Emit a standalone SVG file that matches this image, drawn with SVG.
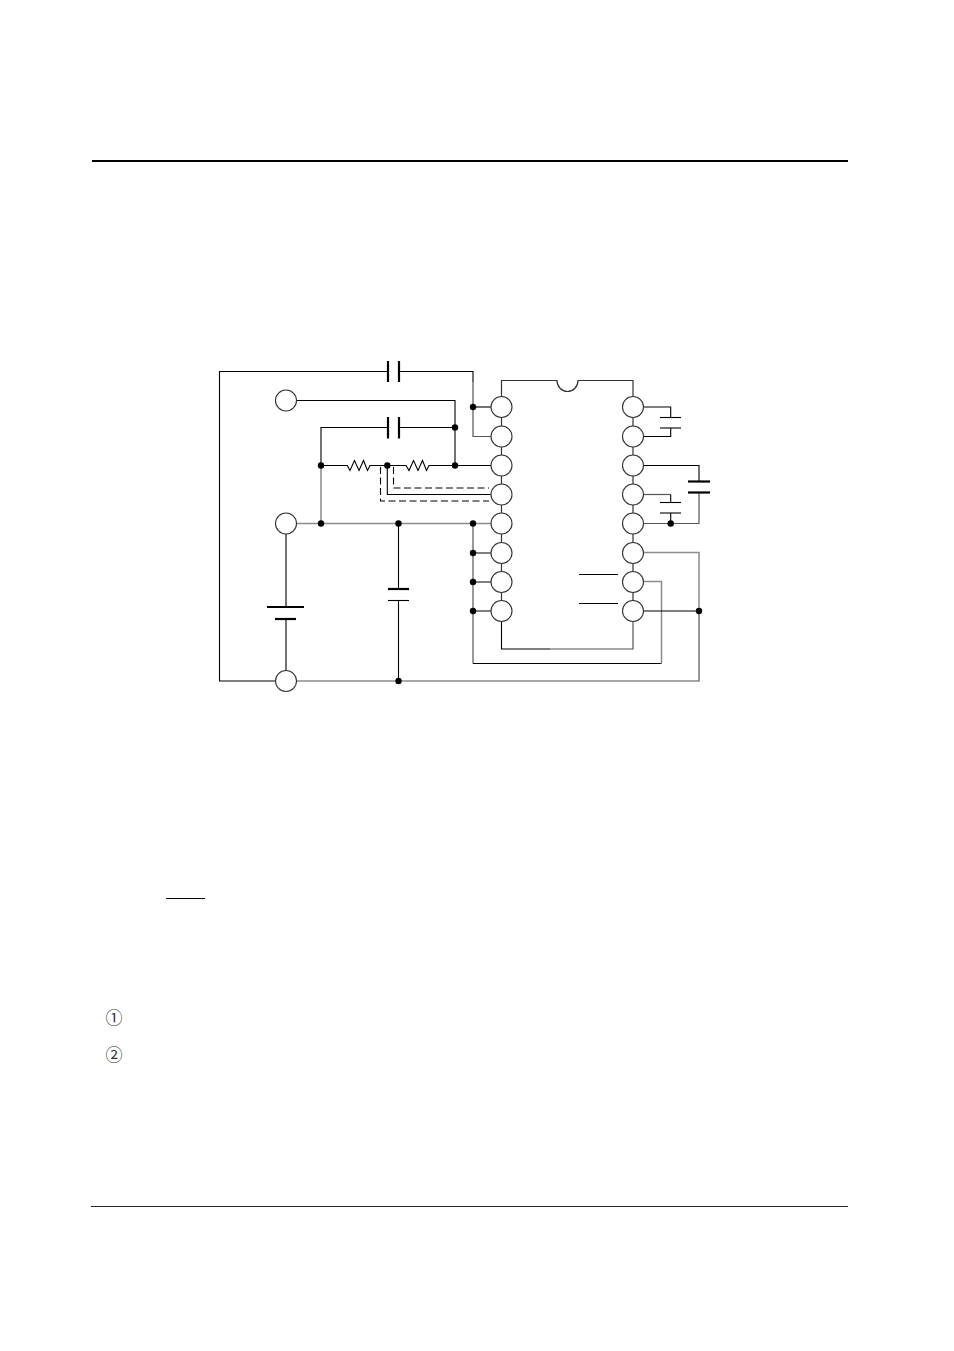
<svg xmlns="http://www.w3.org/2000/svg" width="954" height="1351" viewBox="0 0 954 1351">
<style>
.w{fill:none;stroke:#000;stroke-width:1.1}
.g{fill:none;stroke:#555;stroke-width:1.2}
.l{fill:none;stroke:#8c8c8c;stroke-width:1.5}
.d{fill:none;stroke:#000;stroke-width:1.1;stroke-dasharray:7 3.5}
.p{fill:none;stroke:#000;stroke-width:2.2}
.t{fill:none;stroke:#000;stroke-width:1.1}
.pin{fill:#fff;stroke:#333;stroke-width:1.1}
.dot{fill:#000}
.n{font-family:"Noto Sans CJK KR","Noto Sans CJK SC",sans-serif;font-size:17px;fill:#333;text-anchor:middle}
</style>
<g id="page-rules">
<line x1="92" y1="161" x2="848" y2="161" stroke="#000" stroke-width="2"/>
<line x1="91" y1="1206.500" x2="848" y2="1206.500" stroke="#222" stroke-width="1"/>
<line x1="166" y1="898.500" x2="205" y2="898.500" stroke="#000" stroke-width="1.2"/>
</g>
<g id="connectors">
<path class="w" d="M388 371.500H219.500V681H275"/>
<path class="w" d="M399 371.500H473V382"/>
<path class="g" d="M473 382V436.500H491"/>
<path class="w" d="M473 407H491"/>
<path class="w" d="M296.500 400.500H455V465.500"/>
<path class="w" d="M388 427.500H321V465.500M399 427.500H455"/>
<path class="l" d="M321 465.500V523.500M296.500 523.500H491"/>
<path class="w" d="M321 465.500H347.300L350 470.500 354.500 460.500 359 470.500 363.500 460.500 367.500 470.500 370 465.500H406L409 470.500 413.500 460.500 418 470.500 422.500 460.500 426.500 470.500 429 465.500H491"/>
<path class="w" d="M387.300 465.500V494.500H491"/>
<path class="d" d="M380.500 467V501H489"/>
<path class="d" d="M393.500 467V488H489"/>
<path class="w" d="M286 534V607M286 619V670.500"/>
<path class="w" d="M398.500 523.500V589M398.500 600V681"/>
<path class="g" d="M296.500 681H699V611"/>
<path class="l" d="M699 611V552.500H643.500"/>
<path class="g" d="M473 523.500V663.500"/>
<path class="w" d="M473 663.500H661.500"/>
<path class="l" d="M661.500 663.500V581.500H643.500"/>
<path class="w" d="M473 553H491M473 582H491M473 611H491"/>
<path class="w" d="M501.500 621.500V649H550"/>
<path class="g" d="M550 649H633V621.500"/>
<path class="w" d="M643.500 611H699"/>
<line class="w" x1="579" y1="574.500" x2="618" y2="574.500"/>
<line class="w" x1="579" y1="603.500" x2="618" y2="603.500"/>
<path class="w" d="M643.500 407H670.700V417.500M670.700 428V436.500H643.500"/>
<path class="w" d="M643.500 465.500H699V481.500"/>
<path class="g" d="M699 492.500V523.500H643.500"/>
<path class="g" d="M643.500 494.500H670.700"/>
<path class="w" d="M670.700 494.500V502.500M670.700 513V523.500"/>
</g>
<g id="capacitor-c1"><line class="p" x1="388" y1="361" x2="388" y2="382"/><line class="p" x1="399" y1="361" x2="399" y2="382"/></g>
<g id="capacitor-c2"><line class="p" x1="388" y1="417" x2="388" y2="438.500"/><line class="p" x1="399" y1="417" x2="399" y2="438.500"/></g>
<g id="battery"><line class="p" x1="267" y1="607" x2="304" y2="607"/><line class="p" x1="275" y1="619" x2="296" y2="619"/></g>
<g id="capacitor-c3"><line class="p" x1="388" y1="589" x2="409" y2="589"/><line class="t" x1="388" y1="600.500" x2="409" y2="600.500"/></g>
<g id="capacitor-c4"><line class="t" x1="660" y1="417.500" x2="681" y2="417.500"/><line class="t" x1="660" y1="428" x2="681" y2="428"/></g>
<g id="capacitor-c5"><line class="p" x1="688" y1="481.500" x2="710" y2="481.500"/><line class="p" x1="688" y1="492.500" x2="710" y2="492.500"/></g>
<g id="capacitor-c6"><line class="t" x1="660" y1="502.500" x2="681" y2="502.500"/><line class="t" x1="660" y1="513" x2="681" y2="513"/></g>
<g id="ic-body">
<path fill="none" stroke="#333" stroke-width="1.2" d="M501.500 611V380.500H557A10.500 11 0 0 0 578 380.500H633V611"/>
</g>
<g id="terminals">
<circle class="pin" cx="286" cy="400.500" r="10.500"/>
<circle class="pin" cx="286" cy="523.500" r="10.500"/>
<circle class="pin" cx="286" cy="681" r="10.500"/>
</g>
<g id="ic-pins">
<circle class="pin" cx="501.500" cy="407" r="10.500"/>
<circle class="pin" cx="501.500" cy="436.500" r="10.500"/>
<circle class="pin" cx="501.500" cy="465.500" r="10.500"/>
<circle class="pin" cx="501.500" cy="494.500" r="10.500"/>
<circle class="pin" cx="501.500" cy="523.500" r="10.500"/>
<circle class="pin" cx="501.500" cy="553" r="10.500"/>
<circle class="pin" cx="501.500" cy="582" r="10.500"/>
<circle class="pin" cx="501.500" cy="611" r="10.500"/>
<circle class="pin" cx="633" cy="407" r="10.500"/>
<circle class="pin" cx="633" cy="436.500" r="10.500"/>
<circle class="pin" cx="633" cy="465.500" r="10.500"/>
<circle class="pin" cx="633" cy="494.500" r="10.500"/>
<circle class="pin" cx="633" cy="523.500" r="10.500"/>
<circle class="pin" cx="633" cy="553" r="10.500"/>
<circle class="pin" cx="633" cy="582" r="10.500"/>
<circle class="pin" cx="633" cy="611" r="10.500"/>
</g>
<g id="junctions">
<circle class="dot" cx="473" cy="407" r="3.200"/>
<circle class="dot" cx="455" cy="427.500" r="3.200"/>
<circle class="dot" cx="321" cy="465.500" r="3.200"/>
<circle class="dot" cx="387.300" cy="465.500" r="3.200"/>
<circle class="dot" cx="455" cy="465.500" r="3.200"/>
<circle class="dot" cx="321" cy="523.500" r="3.200"/>
<circle class="dot" cx="398.500" cy="523.500" r="3.200"/>
<circle class="dot" cx="473" cy="523.500" r="3.200"/>
<circle class="dot" cx="473" cy="553" r="3.200"/>
<circle class="dot" cx="473" cy="582" r="3.200"/>
<circle class="dot" cx="473" cy="611" r="3.200"/>
<circle class="dot" cx="398.500" cy="681" r="3.200"/>
<circle class="dot" cx="699" cy="611" r="3.200"/>
<circle class="dot" cx="670.700" cy="523.500" r="3.200"/>
</g>
<g id="notes">
<text class="n" x="114" y="1023.500">①</text>
<text class="n" x="114" y="1060.500">②</text>
</g>
</svg>
